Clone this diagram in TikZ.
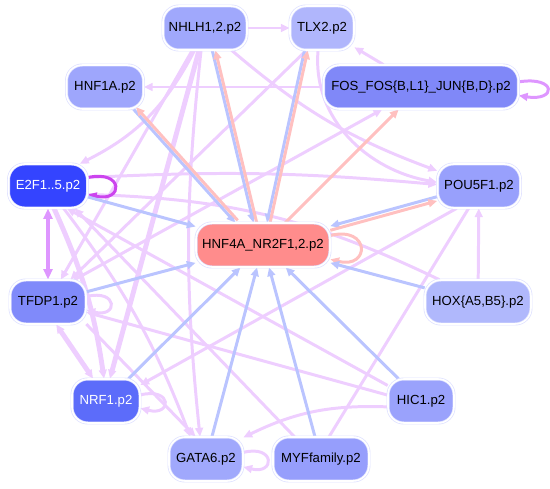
\documentclass[tikz,border=0pt]{standalone}
\usepackage{fontspec}
\setmainfont{Liberation Sans}
\usepackage{xcolor}
\usetikzlibrary{arrows.meta}
\pgfdeclarelayer{links}
\pgfsetlayers{links,main}

\definecolor{nodeline}{RGB}{222,224,255}
\definecolor{pinkedge}{RGB}{238,206,255}
\definecolor{blueedge}{RGB}{186,196,255}
\definecolor{salmonedge}{RGB}{255,192,192}
\definecolor{purpleedge}{RGB}{204,68,238}
\definecolor{lilacedge}{RGB}{222,150,255}
\definecolor{cE2F}{RGB}{52,68,255}
\definecolor{cNRF}{RGB}{92,108,250}
\definecolor{cTFDP}{RGB}{128,138,250}
\definecolor{cFOS}{RGB}{128,136,248}
\definecolor{cNHLH}{RGB}{160,168,252}
\definecolor{cHNFA}{RGB}{158,166,252}
\definecolor{cTLX}{RGB}{176,182,252}
\definecolor{cPOU}{RGB}{152,160,252}
\definecolor{cHOX}{RGB}{176,184,252}
\definecolor{cHIC}{RGB}{154,162,252}
\definecolor{cGATA}{RGB}{160,168,252}
\definecolor{cMYF}{RGB}{150,158,252}
\definecolor{cHNF}{RGB}{255,140,140}

\begin{document}
\begin{tikzpicture}[x=0.02cm,y=-0.02cm,font=\fontsize{7.5}{9}\selectfont,
      tf/.style={draw=nodeline,double=white,double distance=0.9pt,rounded corners=9pt,minimum height=0.88cm,inner sep=2pt},
      tip/.style={-{Triangle[length=5pt,width=4.4pt]}},
      pnk/.style={draw=pinkedge,line width=1.7pt,tip},
      pln/.style={draw=pinkedge,line width=1.7pt},
      blu/.style={draw=blueedge,line width=1.7pt,tip},
      sal/.style={draw=salmonedge,line width=1.7pt,tip},
      fat/.style={line width=2.8pt}]
    \useasboundingbox (0,0) rectangle (550,489);
    % transcription factor nodes
    \node[tf,fill=cNHLH,minimum width=1.68cm] (nhlh) at (205,28) {NHLH1,2.p2};
    \node[tf,fill=cTLX,minimum width=1.28cm] (tlx) at (322,28) {TLX2.p2};
    \node[tf,fill=cHNFA,minimum width=1.54cm] (hnfa) at (105,87) {HNF1A.p2};
    \node[tf,fill=cFOS,minimum width=3.9cm] (fos) at (421,87) {FOS\_FOS\{B,L1\}\_JUN\{B,D\}.p2};
    \node[tf,fill=cE2F,text=white,minimum width=1.58cm] (etf) at (48,186) {E2F1..5.p2};
    \node[tf,fill=cPOU,minimum width=1.66cm] (pou) at (479,186) {POU5F1.p2};
    \node[tf,fill=cHNF,minimum width=2.68cm] (hnf) at (263,245) {HNF4A\_NR2F1,2.p2};
    \node[tf,fill=cTFDP,minimum width=1.52cm] (tfdp) at (48,302) {TFDP1.p2};
    \node[tf,fill=cHOX,minimum width=2.12cm] (hox) at (478,302) {HOX\{A5,B5\}.p2};
    \node[tf,fill=cNRF,text=white,minimum width=1.36cm] (nrf) at (106,401) {NRF1.p2};
    \node[tf,fill=cHIC,minimum width=1.32cm] (hic) at (421,401) {HIC1.p2};
    \node[tf,fill=cGATA,minimum width=1.48cm] (gata) at (206,459) {GATA6.p2};
    \node[tf,fill=cMYF,minimum width=1.92cm] (myf) at (321,459) {MYFfamily.p2};
    \begin{pgfonlayer}{links}
    % pink links
    \draw[pnk] (nhlh) -- (tlx);
    \draw[pnk] (fos) -- (tlx);
    \draw[pnk] (fos) -- (hnfa);
    \draw[pnk] (nhlh.-115) to[bend left=18] (etf.35);
    \draw[pnk] (nhlh) -- (tfdp);
    \draw[pnk,fat] (nhlh.-105) -- (nrf.80);
    \draw[pnk] (nhlh.-100) to[bend right=6] (gata.105);
    \draw[pnk] (nhlh.-40) to[bend right=10] (pou.160);
    \draw[pnk] (tlx.-100) to[out=-95,in=170] (pou.175);
    \draw[pnk] (tlx.-125) -- (tfdp.45);
    \draw[pnk] (etf.12) to[bend left=4] (pou.178);
    \draw[pln] (hox.150) to[bend right=12] (etf.-12);
    \draw[pnk] (hox) -- (pou);
    \draw[pnk] (pou.-135) -- (nrf.25);
    \draw[pln] (pou.-115) -- (myf.70);
    \draw[pnk] (hic.170) -- (tfdp.-15);
    \draw[pnk] (hic.155) -- (etf.-50);
    \draw[pnk] (hic.-170) to[bend right=14] (gata.30);
    \draw[pnk] (myf.140) -- (etf.-40);
    \draw[pnk] (tfdp.-30) -- (gata.115);
    \draw[pnk] (etf.-55) to[bend left=8] (gata.125);
    \draw[pnk,fat] (etf.-75) to[bend left=8] (nrf.95);
    \draw[pnk,fat,{Triangle[length=5pt,width=4.4pt]}-{Triangle[length=5pt,width=4.4pt]}] (tfdp.-70) -- (nrf.120);
    \draw[pnk] (tfdp.40) -- (fos.-150);
    % self loops
    \draw[pnk] (tfdp.8) .. controls +(32,-8) and +(32,8) .. (tfdp.-12);
    \draw[pnk] (nrf.10) .. controls +(32,-8) and +(32,8) .. (nrf.-12);
    \draw[pnk] (gata.10) .. controls +(32,-8) and +(32,8) .. (gata.-12);
    \draw[draw=lilacedge,line width=1.7pt,tip] (fos.3) .. controls +(38,-6) and +(38,6) .. (fos.-5);
    \draw[draw=purpleedge,line width=1.7pt,tip] (etf.12) .. controls +(36,-8) and +(36,8) .. (etf.-12);
    \draw[draw=lilacedge,line width=2.4pt,{Triangle[length=6pt,width=5pt]}-{Triangle[length=6pt,width=5pt]}] (etf) -- (tfdp);
    \draw[sal] (hnf.8) .. controls +(40,-10) and +(40,10) .. (hnf.-12);
    % links into HNF4A
    \foreach \src in {etf,tfdp,nrf,gata,myf,hic,hox} {
      \draw[blu] (\src) -- (hnf);
    }
    \draw[blu] (hnfa.-38) -- (hnf.141);
    \draw[sal] ([shift={(1.3pt,1.3pt)}]hnf.141) -- ([shift={(1.3pt,1.3pt)}]hnfa.-38);
    \draw[blu] (nhlh.-72) -- (hnf.113);
    \draw[sal] ([xshift=1.8pt]hnf.113) -- ([xshift=1.8pt]nhlh.-72);
    \draw[blu] (tlx.-128) -- (hnf.80);
    \draw[sal] ([xshift=1.8pt]hnf.80) -- ([xshift=1.8pt]tlx.-128);
    \draw[blu] ([yshift=1.2pt]pou.-163) -- ([yshift=1.2pt]hnf.14);
    \draw[sal] ([yshift=-1.2pt]hnf.14) -- ([yshift=-1.2pt]pou.-163);
    \draw[sal] (hnf) -- (fos);
    \end{pgfonlayer}
  \end{tikzpicture}
\end{document}
